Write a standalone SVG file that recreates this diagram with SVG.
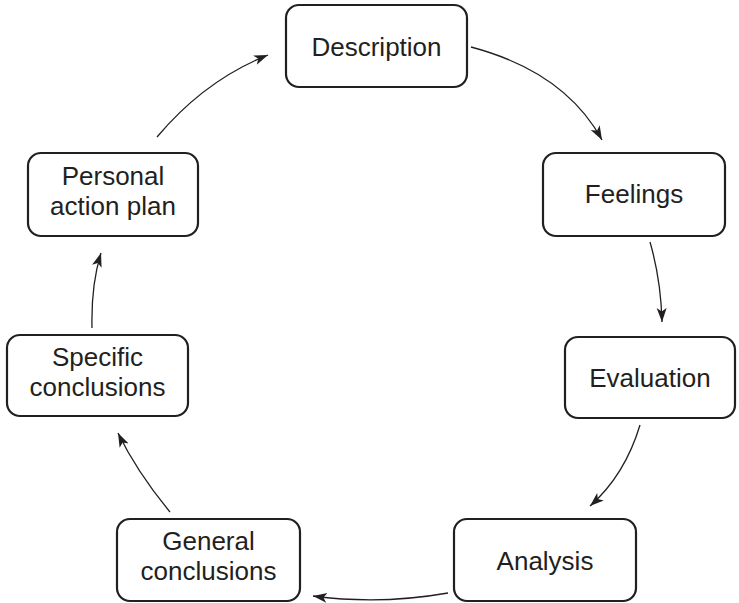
<svg xmlns="http://www.w3.org/2000/svg" width="739" height="603" viewBox="0 0 739 603">
<defs>
<style>
.box{fill:#fff;stroke:#231f20;stroke-width:2.2}
.lbl{font-family:"Liberation Sans",Arial,sans-serif;font-size:26px;fill:#231f20;text-anchor:middle}
.arr{fill:none;stroke:#231f20;stroke-width:1.3;marker-end:url(#ah)}
</style>
<marker id="ah" markerUnits="userSpaceOnUse" markerWidth="15" markerHeight="11" refX="14" refY="5.5" orient="auto">
<path d="M0,0.5 L14,5.5 L0,10.5 L3.5,5.5 z" fill="#231f20"/>
</marker>
</defs>
<rect width="739" height="603" fill="#fff"/>
<g id="connectors">
<path class="arr" d="M471,47 Q565,72 602,140"/>
<path class="arr" d="M650,242 Q661,280 662,322"/>
<path class="arr" d="M640,425 Q625,475 590,506"/>
<path class="arr" d="M448,593 Q380,605 313,596"/>
<path class="arr" d="M170,512 Q137,472 118,433"/>
<path class="arr" d="M92,328 Q91,285 101,253"/>
<path class="arr" d="M157,137 Q205,80 268,55"/>
</g>
<g id="description"><rect class="box" x="286" y="5" width="181" height="82" rx="13"/><text class="lbl" x="376.5" y="55.5">Description</text></g>
<g id="feelings"><rect class="box" x="543" y="153" width="182" height="83" rx="13"/><text class="lbl" x="634" y="203">Feelings</text></g>
<g id="evaluation"><rect class="box" x="565" y="337" width="170" height="81" rx="13"/><text class="lbl" x="650" y="386.5">Evaluation</text></g>
<g id="analysis"><rect class="box" x="454" y="519" width="182" height="82" rx="13"/><text class="lbl" x="545" y="569.5">Analysis</text></g>
<g id="general"><rect class="box" x="117" y="519" width="183" height="82" rx="13"/><text class="lbl" x="208.5" y="550">General</text><text class="lbl" x="208.5" y="580">conclusions</text></g>
<g id="specific"><rect class="box" x="7" y="335" width="181" height="81" rx="13"/><text class="lbl" x="97.5" y="366">Specific</text><text class="lbl" x="97.5" y="396">conclusions</text></g>
<g id="personal"><rect class="box" x="28" y="153" width="170" height="83" rx="13"/><text class="lbl" x="113" y="185">Personal</text><text class="lbl" x="113" y="215">action plan</text></g>
</svg>
